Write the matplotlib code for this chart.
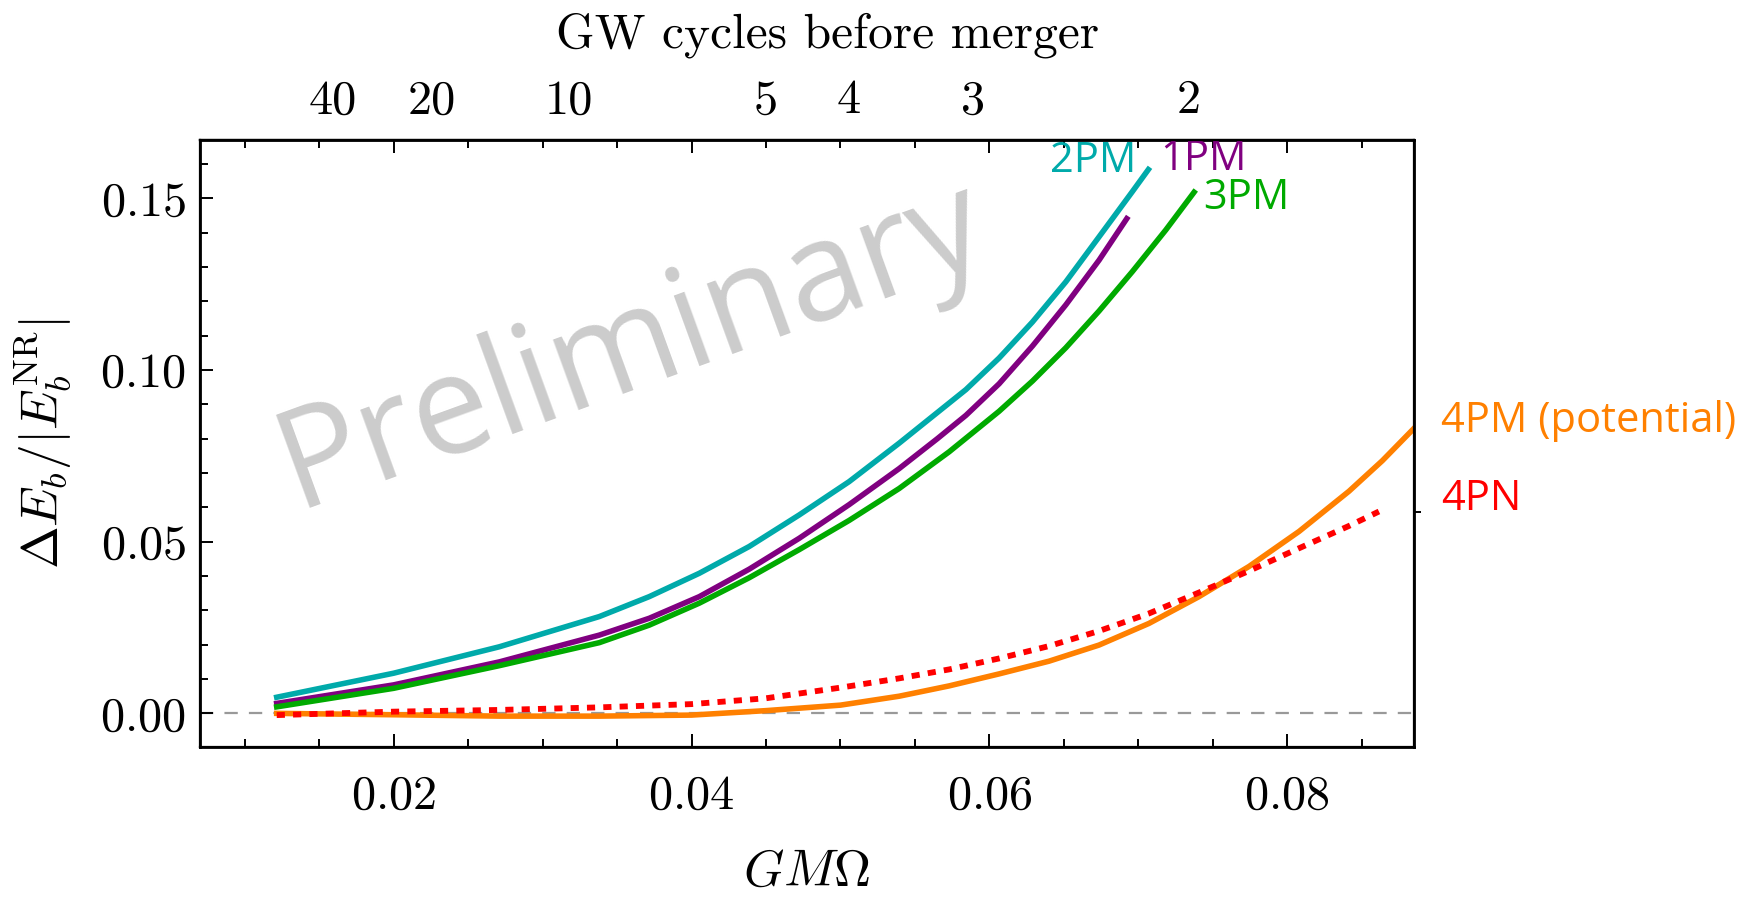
import numpy as np
import matplotlib
matplotlib.use("Agg")
import matplotlib.pyplot as plt
from matplotlib.ticker import MultipleLocator

plt.rcParams['font.family'] = 'serif'
plt.rcParams['font.serif'] = ['cmr10']
plt.rcParams['mathtext.fontset'] = 'cm'
plt.rcParams['axes.formatter.use_mathtext'] = True
plt.rcParams['axes.unicode_minus'] = False

# values
x_2pm = [0.01215, 0.020, 0.0271, 0.03381, 0.03716, 0.04052, 0.04387, 0.04723, 0.05058, 0.05394,
         0.05842, 0.06065, 0.06289, 0.06513, 0.06736, 0.0696, 0.07067]
y_2pm = [0.0047, 0.0117, 0.0194, 0.0282, 0.0340, 0.0408, 0.0486, 0.0578, 0.0675, 0.0787,
         0.0943, 0.1035, 0.1140, 0.1257, 0.1388, 0.1520, 0.1584]

x_1pm = [0.01215, 0.020, 0.0271, 0.03381, 0.03716, 0.04052, 0.04387, 0.04723, 0.05058, 0.05394,
         0.0565, 0.05842, 0.06065, 0.06289, 0.06513, 0.06736, 0.06922]
y_1pm = [0.0029, 0.0083, 0.0150, 0.0228, 0.0277, 0.0340, 0.0420, 0.0510, 0.0608, 0.0713,
         0.0800, 0.0868, 0.0960, 0.1070, 0.1190, 0.1320, 0.1441]

x_3pm = [0.01215, 0.020, 0.0271, 0.03381, 0.03716, 0.04052, 0.04387, 0.04723, 0.05058, 0.05394,
         0.0573, 0.06065, 0.06289, 0.06513, 0.06736, 0.0696, 0.07184, 0.07374]
y_3pm = [0.0019, 0.0073, 0.0139, 0.0206, 0.0257, 0.0321, 0.0395, 0.0477, 0.0562, 0.0655,
         0.0762, 0.0880, 0.0968, 0.1065, 0.1172, 0.1287, 0.1408, 0.1518]

x_4pm = [0.01215, 0.020, 0.0271, 0.0338, 0.040, 0.045, 0.050, 0.05394, 0.05729, 0.06065,
         0.064, 0.06736, 0.07071, 0.07407, 0.07743, 0.08079, 0.08414, 0.08638, 0.0885]
y_4pm = [0.0, -0.0004, -0.0008, -0.0008, -0.0005, 0.0008, 0.0024, 0.0050, 0.0080, 0.0115,
         0.0152, 0.0199, 0.0262, 0.0340, 0.0428, 0.0530, 0.0647, 0.0736, 0.0830]

x_4pn = [0.01215, 0.020, 0.0271, 0.0338, 0.040, 0.045, 0.050, 0.05394, 0.05729, 0.06065,
         0.064, 0.06736, 0.07071, 0.07407, 0.07743, 0.08079, 0.08414, 0.08615]
y_4pn = [-0.0005, 0.0005, 0.0010, 0.00175, 0.0027, 0.0044, 0.0075, 0.0102, 0.0128, 0.0160,
         0.0196, 0.0240, 0.0291, 0.0352, 0.0415, 0.0481, 0.0546, 0.0588]

cycles_labels = ['40', '20', '10', '5', '4', '3', '2']
cycles_pos = [0.01591, 0.02259, 0.03177, 0.04499, 0.05058, 0.05887, 0.07335]

c_2pm = '#00AAAA'
c_1pm = '#800080'
c_3pm = '#00AA00'
c_4pm = '#FF8000'
c_4pn = '#FF0000'

fig = plt.figure(figsize=(8.78, 4.485), dpi=200)
ax = fig.add_axes([0.1139, 0.1672, 0.6913, 0.6767])

ax.axhline(0, color='#999999', lw=0.8, dashes=(6, 5), zorder=1)

ax.plot(x_2pm, y_2pm, color=c_2pm, lw=2)
ax.plot(x_1pm, y_1pm, color=c_1pm, lw=2)
ax.plot(x_3pm, y_3pm, color=c_3pm, lw=2)
ax.plot(x_4pm, y_4pm, color=c_4pm, lw=2)
ax.plot(x_4pn, y_4pn, color=c_4pn, lw=2.1, dashes=(1.4, 1.4))

lab = dict(family='Open Sans', fontsize=15, va='center')
ax.text(0.06987, 0.1609, '2PM', color=c_2pm, ha='right', **lab)
ax.text(0.07148, 0.1615, '1PM', color=c_1pm, ha='left', **lab)
ax.text(0.07436, 0.1501, '3PM', color=c_3pm, ha='left', **lab)
ax.text(0.0903, 0.0853, '4PM (potential)', color=c_4pm, ha='left', clip_on=False, **lab)
ax.text(0.0903, 0.0623, '4PN', color=c_4pn, ha='left', clip_on=False, **lab)

ax.text(0.036, 0.1068, 'Preliminary', family='Open Sans', fontsize=50,
        color='#cccccc', rotation=20, ha='center', va='center', zorder=0)

ax.set_xlim(0.007, 0.0885)
ax.set_ylim(-0.0098, 0.167)
ax.xaxis.set_major_locator(MultipleLocator(0.02))
ax.xaxis.set_minor_locator(MultipleLocator(0.005))
ax.yaxis.set_major_locator(MultipleLocator(0.05))
ax.yaxis.set_minor_locator(MultipleLocator(0.01))
ax.tick_params(which='both', direction='in', top=True, right=True, labelsize=17.4, width=0.7)
ax.tick_params(which='major', length=4.8)
ax.tick_params(which='minor', length=3)
ax.tick_params(axis='x', pad=10)
ax.tick_params(axis='y', pad=5)
for s in ax.spines.values():
    s.set_linewidth(1.0)

ax.set_xlabel(r'$GM\Omega$', fontsize=18.5)
ax.xaxis.set_label_coords(0.5, -0.17)
ax.xaxis.label.set_va('top')
ax.set_ylabel(r'$\Delta E_b/|E_b^{\rm NR}|$', fontsize=18.5)
ax.yaxis.set_label_coords(-0.105, 0.5)

# top axis: GW cycles before merger
top = ax.secondary_xaxis('top')
top.set_xticks(cycles_pos)
top.set_xticklabels(cycles_labels)
top.tick_params(length=0, labelsize=17.4, pad=6)
fig.text(0.4715, 1 - 48 / 897, 'GW cycles before merger', fontsize=17.8,
         ha='center', va='baseline')

# small outer tick marking the 4PN end value
right = ax.twinx()
right.set_ylim(ax.get_ylim())
right.set_yticks([y_4pn[-1]])
right.set_yticklabels([''])
right.tick_params(direction='out', length=2.5, width=0.7)

fig.savefig('out.png', dpi=200)
